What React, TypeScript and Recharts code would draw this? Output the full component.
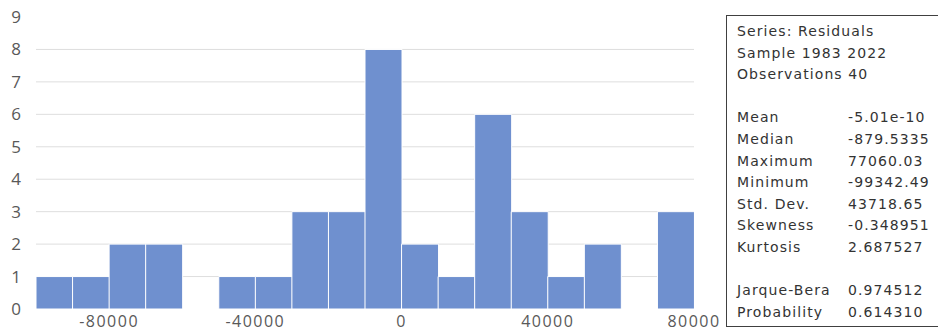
import React from 'react';
import { BarChart, Bar, XAxis, YAxis, CartesianGrid } from 'recharts';

// histogram bins of the residuals (lower edge and count)
const binStart = [-100000, -90000, -80000, -70000, -60000, -50000, -40000, -30000, -20000, -10000, 0, 10000, 20000, 30000, 40000, 50000, 60000, 70000];
const binCount = [1, 1, 2, 2, 0, 1, 1, 3, 3, 8, 2, 1, 6, 3, 1, 2, 0, 3];
const binWidth = 10000;

const xTicks = [-80000, -40000, 0, 40000, 80000];
const yTicks = [0, 1, 2, 3, 4, 5, 6, 7, 8, 9];
const gridValues = [1, 2, 3, 4, 5, 6, 7, 8];

const statsHeader = ['Series: Residuals', 'Sample 1983 2022', 'Observations 40'];
const statNames = ['Mean', 'Median', 'Maximum', 'Minimum', 'Std. Dev.', 'Skewness', 'Kurtosis'];
const statValues = ['-5.01e-10', '-879.5335', '77060.03', '-99342.49', '43718.65', '-0.348951', '2.687527'];
const testNames = ['Jarque-Bera', 'Probability'];
const testValues = ['0.974512', '0.614310'];

const data = binStart.map((lo, i) => ({ mid: lo + binWidth / 2, count: binCount[i] }));

const W = 938;
const H = 333;
const plotLeft = 36;
const plotRight = 694;

const font = '"Open Sans", sans-serif';
const yTickStyle = { fill: '#595959', fontSize: 17, fontFamily: font };
const xTickStyle = { fill: '#595959', fontSize: 16, fontFamily: font, letterSpacing: 1.5 };

const Row = ({ name, value }: { name: string; value: string }) => (
  <div style={{ display: 'flex', height: 21.6 }}>
    <span style={{ width: 111, whiteSpace: 'nowrap' }}>{name}</span>
    <span style={{ whiteSpace: 'nowrap' }}>{value}</span>
  </div>
);

const App: React.FC = () => {
  return (
    <div style={{ position: 'absolute', left: 0, top: 0, width: W, height: H, background: '#fff' }}>
      <BarChart
        width={W}
        height={H}
        data={data}
        margin={{ top: 17, right: W - plotRight, bottom: 0, left: 0 }}
        barCategoryGap={0}
        barGap={0}
      >
        <CartesianGrid vertical={false} stroke="#dedede" horizontalValues={gridValues} />
        <XAxis
          dataKey="mid"
          type="number"
          domain={[-100000, 80000]}
          ticks={xTicks}
          allowDataOverflow
          axisLine={false}
          tickLine={false}
          height={24}
          tickMargin={1}
          tick={xTickStyle}
          interval={0}
        />
        <YAxis
          domain={[0, 9]}
          ticks={yTicks}
          width={plotLeft}
          axisLine={false}
          tickLine={false}
          tickMargin={9}
          tick={yTickStyle}
          interval={0}
        />
        <Bar dataKey="count" fill="#6F90CF" stroke="#ffffff" strokeWidth={1} isAnimationActive={false} />
      </BarChart>
      <div
        style={{
          position: 'absolute',
          left: 726,
          top: 15,
          width: 220,
          height: 312,
          border: '1.5px solid #404040',
          boxSizing: 'border-box',
          padding: '5px 0 0 10px',
          fontFamily: '"DejaVu Sans", sans-serif',
          fontSize: 14,
          letterSpacing: 1.1,
          color: '#333',
          lineHeight: '21.6px',
        }}
      >
        {statsHeader.map((t) => (
          <div key={t} style={{ height: 21.6, whiteSpace: 'nowrap' }}>{t}</div>
        ))}
        <div style={{ height: 21.6 }} />
        {statNames.map((n, i) => (
          <Row key={n} name={n} value={statValues[i]} />
        ))}
        <div style={{ height: 21.6 }} />
        {testNames.map((n, i) => (
          <Row key={n} name={n} value={testValues[i]} />
        ))}
      </div>
    </div>
  );
};

export default App;
